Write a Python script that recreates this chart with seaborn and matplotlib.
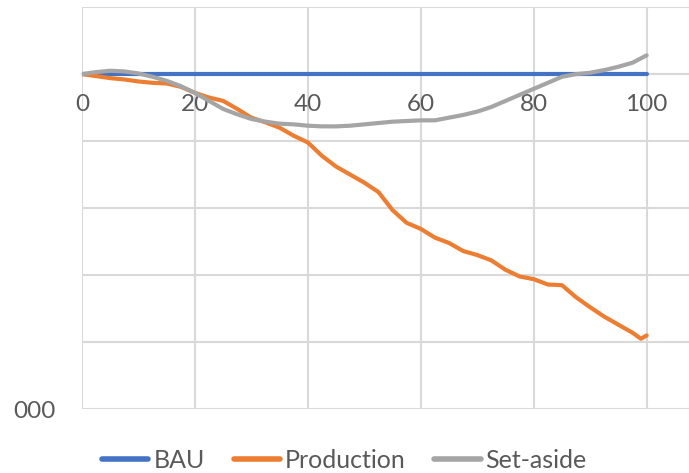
import pandas as pd
import matplotlib.pyplot as plt
import seaborn as sns

# values in gridline units (one gridline = 1)
x_bau = [0, 100]
bau = [0, 0]

x_prod = [0, 2.5, 5, 7.5, 10, 12.5, 15, 17.5, 20, 22.5, 25, 27.5, 30, 32.5, 35, 37.5,
          40, 42.5, 45, 47.5, 50, 52.5, 55, 57.5, 60, 62.5, 65, 67.5, 70, 72.5, 75,
          77.5, 80, 82.5, 85, 87.5, 90, 92.5, 95, 97.5, 99, 100]
production = [0, -0.03, -0.06, -0.08, -0.11, -0.13, -0.14, -0.19, -0.28, -0.35, -0.40,
              -0.52, -0.65, -0.72, -0.80, -0.92, -1.02, -1.22, -1.38, -1.50, -1.62,
              -1.76, -2.03, -2.22, -2.31, -2.44, -2.52, -2.64, -2.70, -2.78, -2.92,
              -3.02, -3.06, -3.14, -3.15, -3.33, -3.48, -3.62, -3.74, -3.86, -3.95, -3.90]

x_set = [0, 2.5, 5, 7.5, 10, 12.5, 15, 17.5, 20, 22.5, 25, 27.5, 30, 32.5, 35, 37.5,
         40, 42.5, 45, 47.5, 50, 52.5, 55, 57.5, 60, 62.5, 65, 67.5, 70, 72.5, 75,
         77.5, 80, 82.5, 85, 87.5, 90, 92.5, 95, 97.5, 100]
set_aside = [0, 0.03, 0.05, 0.04, 0.01, -0.04, -0.10, -0.18, -0.28, -0.40, -0.52,
             -0.60, -0.67, -0.71, -0.74, -0.75, -0.77, -0.78, -0.78, -0.77, -0.75,
             -0.73, -0.71, -0.70, -0.69, -0.69, -0.65, -0.61, -0.56, -0.49, -0.40,
             -0.31, -0.22, -0.13, -0.04, 0.0, 0.02, 0.06, 0.11, 0.17, 0.28]

x_ticks = [0, 20, 40, 60, 80, 100]
y_ticks = [-5, -4, -3, -2, -1, 0, 1]
y_labels = ['000', '', '', '', '', '', '']

df = pd.concat([
    pd.DataFrame({'x': x_bau, 'y': bau, 'series': 'BAU'}),
    pd.DataFrame({'x': x_prod, 'y': production, 'series': 'Production'}),
    pd.DataFrame({'x': x_set, 'y': set_aside, 'series': 'Set-aside'}),
])

sns.set_style('white')
plt.rcParams['font.family'] = ['Lato', 'DejaVu Sans']

fig = plt.figure(figsize=(6.89, 4.73), dpi=100)
ax = fig.add_axes([0.119, 0.135, 0.881, 0.85])

palette = {'BAU': '#4472C4', 'Production': '#ED7D31', 'Set-aside': '#A5A5A5'}
sns.lineplot(data=df, x='x', y='y', hue='series', palette=palette, linewidth=3,
             sort=False, estimator=None, ax=ax, legend=True,
             solid_capstyle='round', solid_joinstyle='round', zorder=3)

ax.set_xlim(0, 107.5)
ax.set_ylim(-5, 1)
ax.set_xticks(x_ticks)
ax.set_yticks(y_ticks)
ax.set_yticklabels(y_labels)
ax.grid(True, color='#D9D9D9', linewidth=1.5)
ax.set_axisbelow(True)
for s in ['top', 'right', 'left']:
    ax.spines[s].set_visible(False)
ax.spines['bottom'].set_position(('data', 0))
ax.spines['bottom'].set_color('#D9D9D9')
ax.spines['bottom'].set_linewidth(1.5)
ax.spines['bottom'].set_zorder(1)
ax.tick_params(axis='x', length=0, pad=14, labelsize=17.5, labelcolor='#595959')
ax.tick_params(axis='y', length=0, pad=19, labelsize=17.5, labelcolor='#595959')
ax.set_xlabel('')
ax.set_ylabel('')

handles, labels = ax.get_legend_handles_labels()
ax.get_legend().remove()
for h in handles:
    h.set_linewidth(4)
    h.set_solid_capstyle('round')
leg = fig.legend(handles, labels, loc='lower center', bbox_to_anchor=(0.5, -0.045), ncol=3,
                 frameon=False, fontsize=18, handlelength=1.85, handletextpad=0.2,
                 columnspacing=1.15, labelcolor='#595959')

fig.savefig('out.png', dpi=100)
